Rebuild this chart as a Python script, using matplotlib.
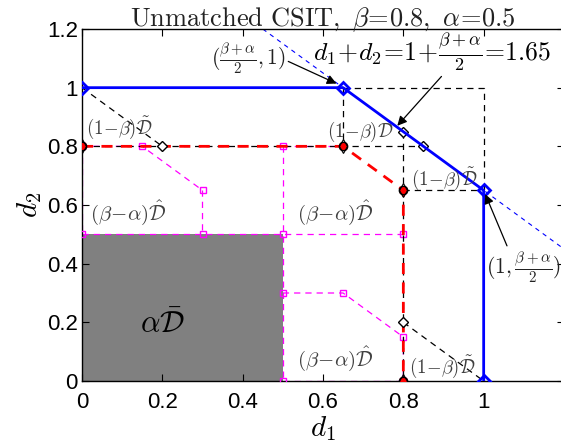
import matplotlib
matplotlib.use("Agg")
import matplotlib.pyplot as plt
from matplotlib.patches import Rectangle

plt.rcParams['mathtext.fontset'] = 'cm'
plt.rcParams['font.family'] = ['Liberation Sans', 'DejaVu Sans']

beta = 0.8
alpha = 0.5
sum_dof = 1.65

# outer region (blue)
blue_x = [0, 0.65, 1, 1]
blue_y = [1, 1, 0.65, 0]
# inner region (red)
red_x = [0, 0.65, 0.8, 0.8]
red_y = [0.8, 0.8, 0.65, 0]
# black dashed auxiliary paths
black_paths = [
    ([0, 0.2], [1, 0.8]),
    ([0, 0.65, 0.85], [0.8, 0.8, 0.8]),
    ([0.65, 1, 1], [1, 1, 0.65]),
    ([0.65, 0.65], [1, 0.8]),
    ([0.8, 0.8], [0.85, 0.65]),
    ([0.8, 1], [0.65, 0.65]),
    ([0.8, 1], [0.2, 0]),
    ([0.8, 0.8], [0.65, 0]),
]
black_diamonds_x = [0.2, 0.8, 0.85, 0.8]
black_diamonds_y = [0.8, 0.85, 0.8, 0.2]
# magenta dashed paths
mag_paths = [
    ([0, 0.15, 0.3, 0.3], [0.8, 0.8, 0.65, 0.5]),
    ([0, 0], [0.8, 0.5]),
    ([0, 0.8], [0.5, 0.5]),
    ([0.5, 0.5], [0.8, 0]),
    ([0.5, 0.65, 0.8, 0.8], [0.3, 0.3, 0.15, 0]),
    ([0.5, 0.8], [0, 0]),
    ([0.5, 0.65], [0.8, 0.8]),
]
mag_sq_x = [0, 0.15, 0.3, 0, 0.3, 0.5, 0.8, 0.5, 0.5, 0.65, 0.8, 0.5, 0.8]
mag_sq_y = [0.8, 0.8, 0.65, 0.5, 0.5, 0.5, 0.5, 0.8, 0.3, 0.3, 0.15, 0, 0]

xticks = [0, 0.2, 0.4, 0.6, 0.8, 1]
xticklabels = ['0', '0.2', '0.4', '0.6', '0.8', '1']
yticks = [0, 0.2, 0.4, 0.6, 0.8, 1, 1.2]
yticklabels = ['0', '0.2', '0.4', '0.6', '0.8', '1', '1.2']

fig = plt.figure(figsize=(5.61, 4.47), dpi=100)
ax = fig.add_axes([82/561, 66/447, 482/561, 352/447])
ax.set_xlim(0, 1.2)
ax.set_ylim(0, 1.2)

# gray region
ax.add_patch(Rectangle((0, 0), alpha, alpha, facecolor='#808080', edgecolor='none', zorder=1))

# sum-dof dashed blue line
lx = [sum_dof - 1.2, 1.2]
ax.plot(lx, [sum_dof - v for v in lx], color='blue', ls=(0, (4, 4)), lw=0.8, zorder=2)

for px, py in mag_paths:
    ax.plot(px, py, color='magenta', ls=(0, (5, 4)), lw=0.9, zorder=2)
ax.plot(mag_sq_x, mag_sq_y, ls='none', marker='s', ms=5, mfc='none', mec='magenta', mew=1, zorder=3)

for px, py in black_paths:
    ax.plot(px, py, color='black', ls=(0, (5, 4)), lw=0.9, zorder=3)

ax.plot(red_x, red_y, color='red', ls=(0, (4, 3)), lw=2, zorder=4,
        marker='s', ms=5, mfc='red', mec='red')
ax.plot(red_x, red_y, ls='none', marker='o', ms=6, mfc='none', mec='black', mew=1, zorder=5)
ax.plot(red_x, red_y, ls='none', marker='d', ms=7, mfc='none', mec='black', mew=0.8, zorder=5)

ax.plot(black_diamonds_x, black_diamonds_y, ls='none', marker='D', ms=5.5, mfc='white', mec='black', mew=1, zorder=6)

ax.plot(blue_x, blue_y, color='blue', lw=2, zorder=7,
        marker='D', ms=6, mfc='none', mec='blue', mew=2)

tc = '#404040'
ax.text(0.01, 0.862, r'$(1\!-\!\beta)\tilde{\mathcal{D}}$', fontsize=13.5, color=tc, va='center', ha='left', zorder=8)
ax.text(0.02, 0.575, r'$(\beta\!-\!\alpha)\hat{\mathcal{D}}$', fontsize=15, color=tc, va='center', ha='left', zorder=8)
ax.text(0.535, 0.575, r'$(\beta\!-\!\alpha)\hat{\mathcal{D}}$', fontsize=15, color=tc, va='center', ha='left', zorder=8)
ax.text(0.535, 0.075, r'$(\beta\!-\!\alpha)\hat{\mathcal{D}}$', fontsize=15, color=tc, va='center', ha='left', zorder=8)
ax.text(0.61, 0.85, r'$(1\!-\!\beta)\mathcal{D}$', fontsize=13.5, color=tc, va='center', ha='left', zorder=8)
ax.text(0.82, 0.69, r'$(1\!-\!\beta)\tilde{\mathcal{D}}$', fontsize=13.5, color=tc, va='center', ha='left', zorder=8)
ax.text(0.815, 0.05, r'$(1\!-\!\beta)\tilde{\mathcal{D}}$', fontsize=13.5, color=tc, va='center', ha='left', zorder=8)
ax.text(0.2, 0.19, r'$\alpha\bar{\mathcal{D}}$', fontsize=22, color='black', va='center', ha='center', zorder=8)

ax.annotate(r'$(1,\frac{\beta+\alpha}{2})$', xy=(1, 0.65), xytext=(1.005, 0.39),
            fontsize=15.5, color='#222222', va='center', ha='left', zorder=8,
            arrowprops=dict(arrowstyle='-|>', color='black', lw=0.9, shrinkA=0, shrinkB=3,
                            mutation_scale=14, relpos=(0.3, 1.0)),
            annotation_clip=False)
ax.annotate(r'$(\frac{\beta+\alpha}{2},1)$', xy=(0.64, 1.01), xytext=(0.32, 1.10),
            fontsize=15.5, color='#222222', va='center', ha='left', zorder=8,
            arrowprops=dict(arrowstyle='-|>', color='black', lw=0.9, shrinkA=0, shrinkB=2,
                            mutation_scale=14, relpos=(1, 0.45)))
ax.annotate(r'$d_1\!+\!d_2\!=\!1\!+\!\frac{\beta+\alpha}{2}\!=\!1.65$', xy=(0.785, 0.87), xytext=(0.575, 1.12),
            fontsize=18.5, color='black', va='center', ha='left', zorder=8,
            arrowprops=dict(arrowstyle='-|>', color='black', lw=0.9, shrinkA=0, shrinkB=0,
                            mutation_scale=14, relpos=(0.55, 0.0)))

ax.set_xticks(xticks)
ax.set_xticklabels(xticklabels)
ax.set_yticks(yticks)
ax.set_yticklabels(yticklabels)
ax.tick_params(direction='in', length=5, width=0.8, labelsize=16, top=True, right=True)
ax.tick_params(axis='x', pad=8)
ax.tick_params(axis='y', pad=3)
for s in ax.spines.values():
    s.set_linewidth(1.0)

ax.set_xlabel(r'$d_1$', fontsize=21, labelpad=1)
ax.set_ylabel(r'$d_2$', fontsize=21, labelpad=2)
ax.set_title(r'$\mathrm{Unmatched\ CSIT},\ \beta\!=\!0.8,\ \alpha\!=\!0.5$', fontsize=19, pad=2, color='#222222')

fig.savefig('out.png', dpi=100)
